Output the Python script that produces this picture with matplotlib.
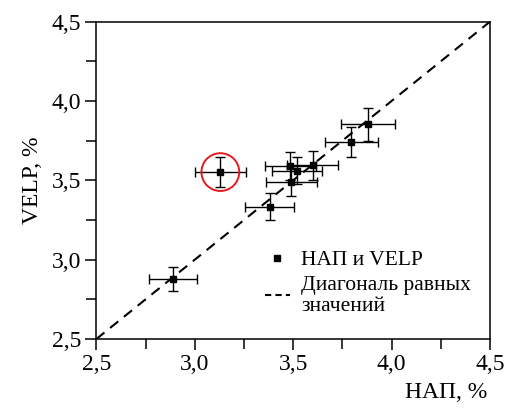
import matplotlib
matplotlib.use("Agg")
import matplotlib.pyplot as plt
from matplotlib.ticker import MultipleLocator, FuncFormatter
from matplotlib.lines import Line2D

nap = [2.89, 3.13, 3.38, 3.49, 3.485, 3.52, 3.60, 3.795, 3.88]
velp = [2.876, 3.552, 3.334, 3.489, 3.590, 3.559, 3.594, 3.741, 3.853]
nap_err = [0.12, 0.13, 0.125, 0.13, 0.13, 0.127, 0.129, 0.135, 0.135]
velp_err = [0.076, 0.093, 0.086, 0.087, 0.088, 0.085, 0.093, 0.095, 0.103]
outlier = 1
diag = [2.5, 4.5]

plt.rcParams['font.family'] = ['Liberation Serif', 'DejaVu Serif']

fig = plt.figure(figsize=(5.07, 4.08), dpi=100)
ax = fig.add_axes([0.190, 0.169, 0.7765, 0.778])

ax.plot(diag, diag, ls=(0, (5, 3.5)), color='black', lw=1.5, zorder=1)
ax.errorbar(nap, velp, xerr=nap_err, yerr=velp_err, fmt='s', color='black',
            ms=5, ecolor='black', elinewidth=1.0, capsize=3.5, capthick=1.0, zorder=3)
ax.scatter([nap[outlier]], [velp[outlier]], s=740, facecolors='none',
           edgecolors='#e8191e', linewidths=1.4, zorder=4)

ax.set_xlim(2.5, 4.5)
ax.set_ylim(2.5, 4.5)
ax.xaxis.set_major_locator(MultipleLocator(0.5))
ax.yaxis.set_major_locator(MultipleLocator(0.5))
ax.xaxis.set_minor_locator(MultipleLocator(0.25))
ax.yaxis.set_minor_locator(MultipleLocator(0.25))
fmt = FuncFormatter(lambda v, p: f"{v:.1f}".replace('.', ','))
ax.xaxis.set_major_formatter(fmt)
ax.yaxis.set_major_formatter(fmt)
ax.tick_params(which='both', direction='out', top=False, right=False,
               width=1.1, labelsize=17, colors='black')
ax.tick_params(which='major', length=8, pad=3)
ax.tick_params(which='minor', length=7)
for s in ax.spines.values():
    s.set_linewidth(1.1)

ax.set_ylabel('VELP, %', fontsize=17, labelpad=6)
ax.set_xlabel('НАП, %', fontsize=17, ha='right')
ax.xaxis.set_label_coords(0.993, -0.135)

handles = [Line2D([], [], marker='s', ls='none', color='black', ms=5),
           Line2D([], [], ls=(0, (3, 2)), color='black', lw=1.5)]
ax.legend(handles, ['НАП и VELP', 'Диагональ равных\nзначений'],
          loc='upper left', bbox_to_anchor=(0.428, 0.28), frameon=False,
          fontsize=15.5, handlelength=1.15, handletextpad=0.55, labelspacing=0.25,
          borderaxespad=0, borderpad=0)

fig.savefig('out.png', dpi=100)
